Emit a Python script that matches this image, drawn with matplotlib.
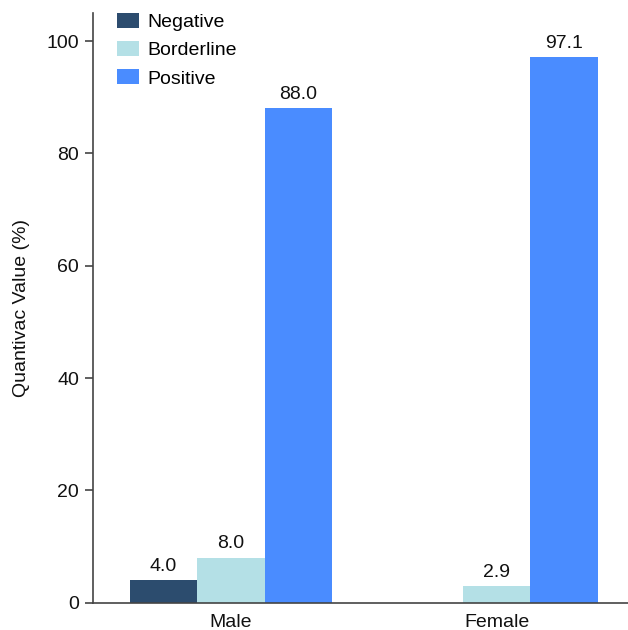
import matplotlib
matplotlib.use("Agg")
import matplotlib.pyplot as plt
import numpy as np

plt.rcParams['font.family'] = ['Liberation Sans', 'DejaVu Sans']

groups = ["Male", "Female"]
series = ["Negative", "Borderline", "Positive"]
negative = [4.0, 0.0]
borderline = [8.0, 2.9]
positive = [88.0, 97.1]
colors = ["#2c4c6e", "#b4e0e6", "#4a8cff"]
yticks = [0, 20, 40, 60, 80, 100]

fig = plt.figure(figsize=(6.28, 6.30), dpi=100)
ax = fig.add_axes([93/628, 27.3/630, 535/628, (602.7-13)/630])

x = np.arange(len(groups))
w = 0.254
vals = [negative, borderline, positive]
for i, (name, v, c) in enumerate(zip(series, vals, colors)):
    bars = ax.bar(x + (i - 1) * w, v, width=w, color=c, label=name, linewidth=0)
    labels = [f"{val:.1f}" if val > 0 else "" for val in v]
    ax.bar_label(bars, labels=labels, padding=4, fontsize=14, color="#111111")

ax.set_xlim(-0.519, 1.495)
ax.set_ylim(0, 105)
ax.set_yticks(yticks)
ax.set_xticks(x)
ax.set_xticklabels(groups)
ax.set_ylabel("Quantivac Value (%)", fontsize=14, color="#111111", labelpad=12)
ax.tick_params(axis='y', labelsize=14, length=6, width=1.2, color="#444444", labelcolor="#111111", pad=4)
ax.tick_params(axis='x', labelsize=14, length=0, labelcolor="#111111", pad=8)
for s in ["top", "right"]:
    ax.spines[s].set_visible(False)
for s in ["left", "bottom"]:
    ax.spines[s].set_color("#444444")
    ax.spines[s].set_linewidth(1.2)

ax.legend(loc="upper left", bbox_to_anchor=(0.045, 1.0), frameon=False, fontsize=14,
          handlelength=1.13, handleheight=0.83, handletextpad=0.45, labelspacing=0.5,
          borderpad=0, borderaxespad=0)

fig.savefig("out.png", dpi=100)
